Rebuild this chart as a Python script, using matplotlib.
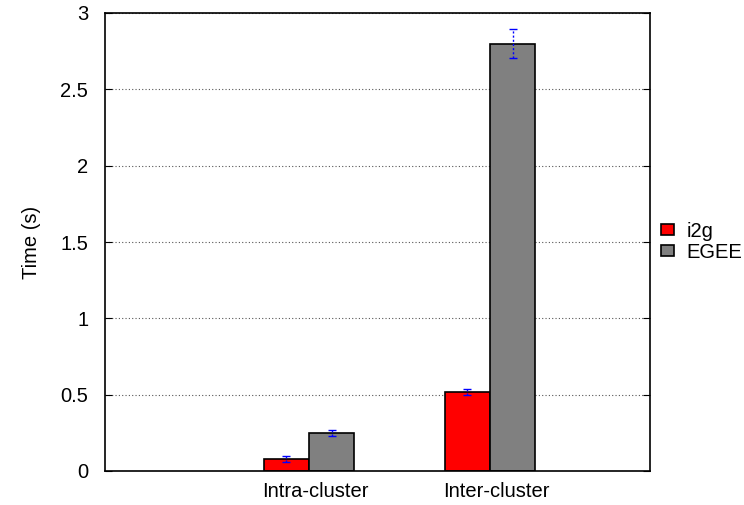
import numpy as np
import matplotlib
matplotlib.use("Agg")
import matplotlib.pyplot as plt
import matplotlib.transforms as mtransforms

# temps moyens de communication (s) et écarts
categories = ["Intra-cluster", "Inter-cluster"]
series = ["i2g", "EGEE"]
i2g_time = [0.08, 0.52]
egee_time = [0.25, 2.80]
i2g_err = [0.02, 0.02]
egee_err = [0.02, 0.095]
yticks = [0, 0.5, 1, 1.5, 2, 2.5, 3]

plt.rcParams['font.family'] = ['Liberation Sans', 'DejaVu Sans']
plt.rcParams['font.size'] = 14.5

fig = plt.figure(figsize=(7.44, 5.05), dpi=100)
ax = fig.add_axes([105/744, 1-471/505, 545/744, 458/505])

x = np.arange(len(categories))
w = 0.25
ax.bar(x - w/2, i2g_time, w, color='#ff0000', edgecolor='black', linewidth=1.2, label=series[0], zorder=2)
ax.bar(x + w/2, egee_time, w, color='#808080', edgecolor='black', linewidth=1.2, label=series[1], zorder=2)

for xs, ys, es in [(x - w/2, i2g_time, i2g_err), (x + w/2, egee_time, egee_err)]:
    eb = ax.errorbar(xs, ys, yerr=es, fmt='none', ecolor='blue', elinewidth=1,
                     capsize=3, capthick=1, zorder=3)
    for lc in eb[2]:
        lc.set_linestyle((0, (1.5, 1.5)))

ax.set_xlim(-1.127, 1.884)
ax.set_ylim(0, 3)
ax.set_xticks(x)
ax.set_xticklabels(categories)
ax.set_yticks(yticks)
ax.set_yticklabels(["0", "0.5", "1", "1.5", "2", "2.5", "3"])
ax.set_ylabel("Time (s)", labelpad=14)
ax.yaxis.grid(True, linestyle=(0, (1, 2)), color='#555555', linewidth=0.8, zorder=0)
ax.set_axisbelow(True)
ax.tick_params(axis='y', direction='in', right=True, length=5, pad=12)
ax.tick_params(axis='x', direction='in', length=0, pad=8)
for s in ax.spines.values():
    s.set_linewidth(1.2)

# labels des catégories légèrement décalés à droite
shift = mtransforms.ScaledTranslation(6/100, 0, fig.dpi_scale_trans)
for lab in ax.get_xticklabels():
    lab.set_transform(lab.get_transform() + shift)

ax.legend(loc='center left', bbox_to_anchor=(1.006, 0.5), frameon=False,
          borderaxespad=0, handlelength=0.62, handleheight=0.45,
          handletextpad=0.62, labelspacing=0.1)

fig.savefig("out.png", dpi=100)
